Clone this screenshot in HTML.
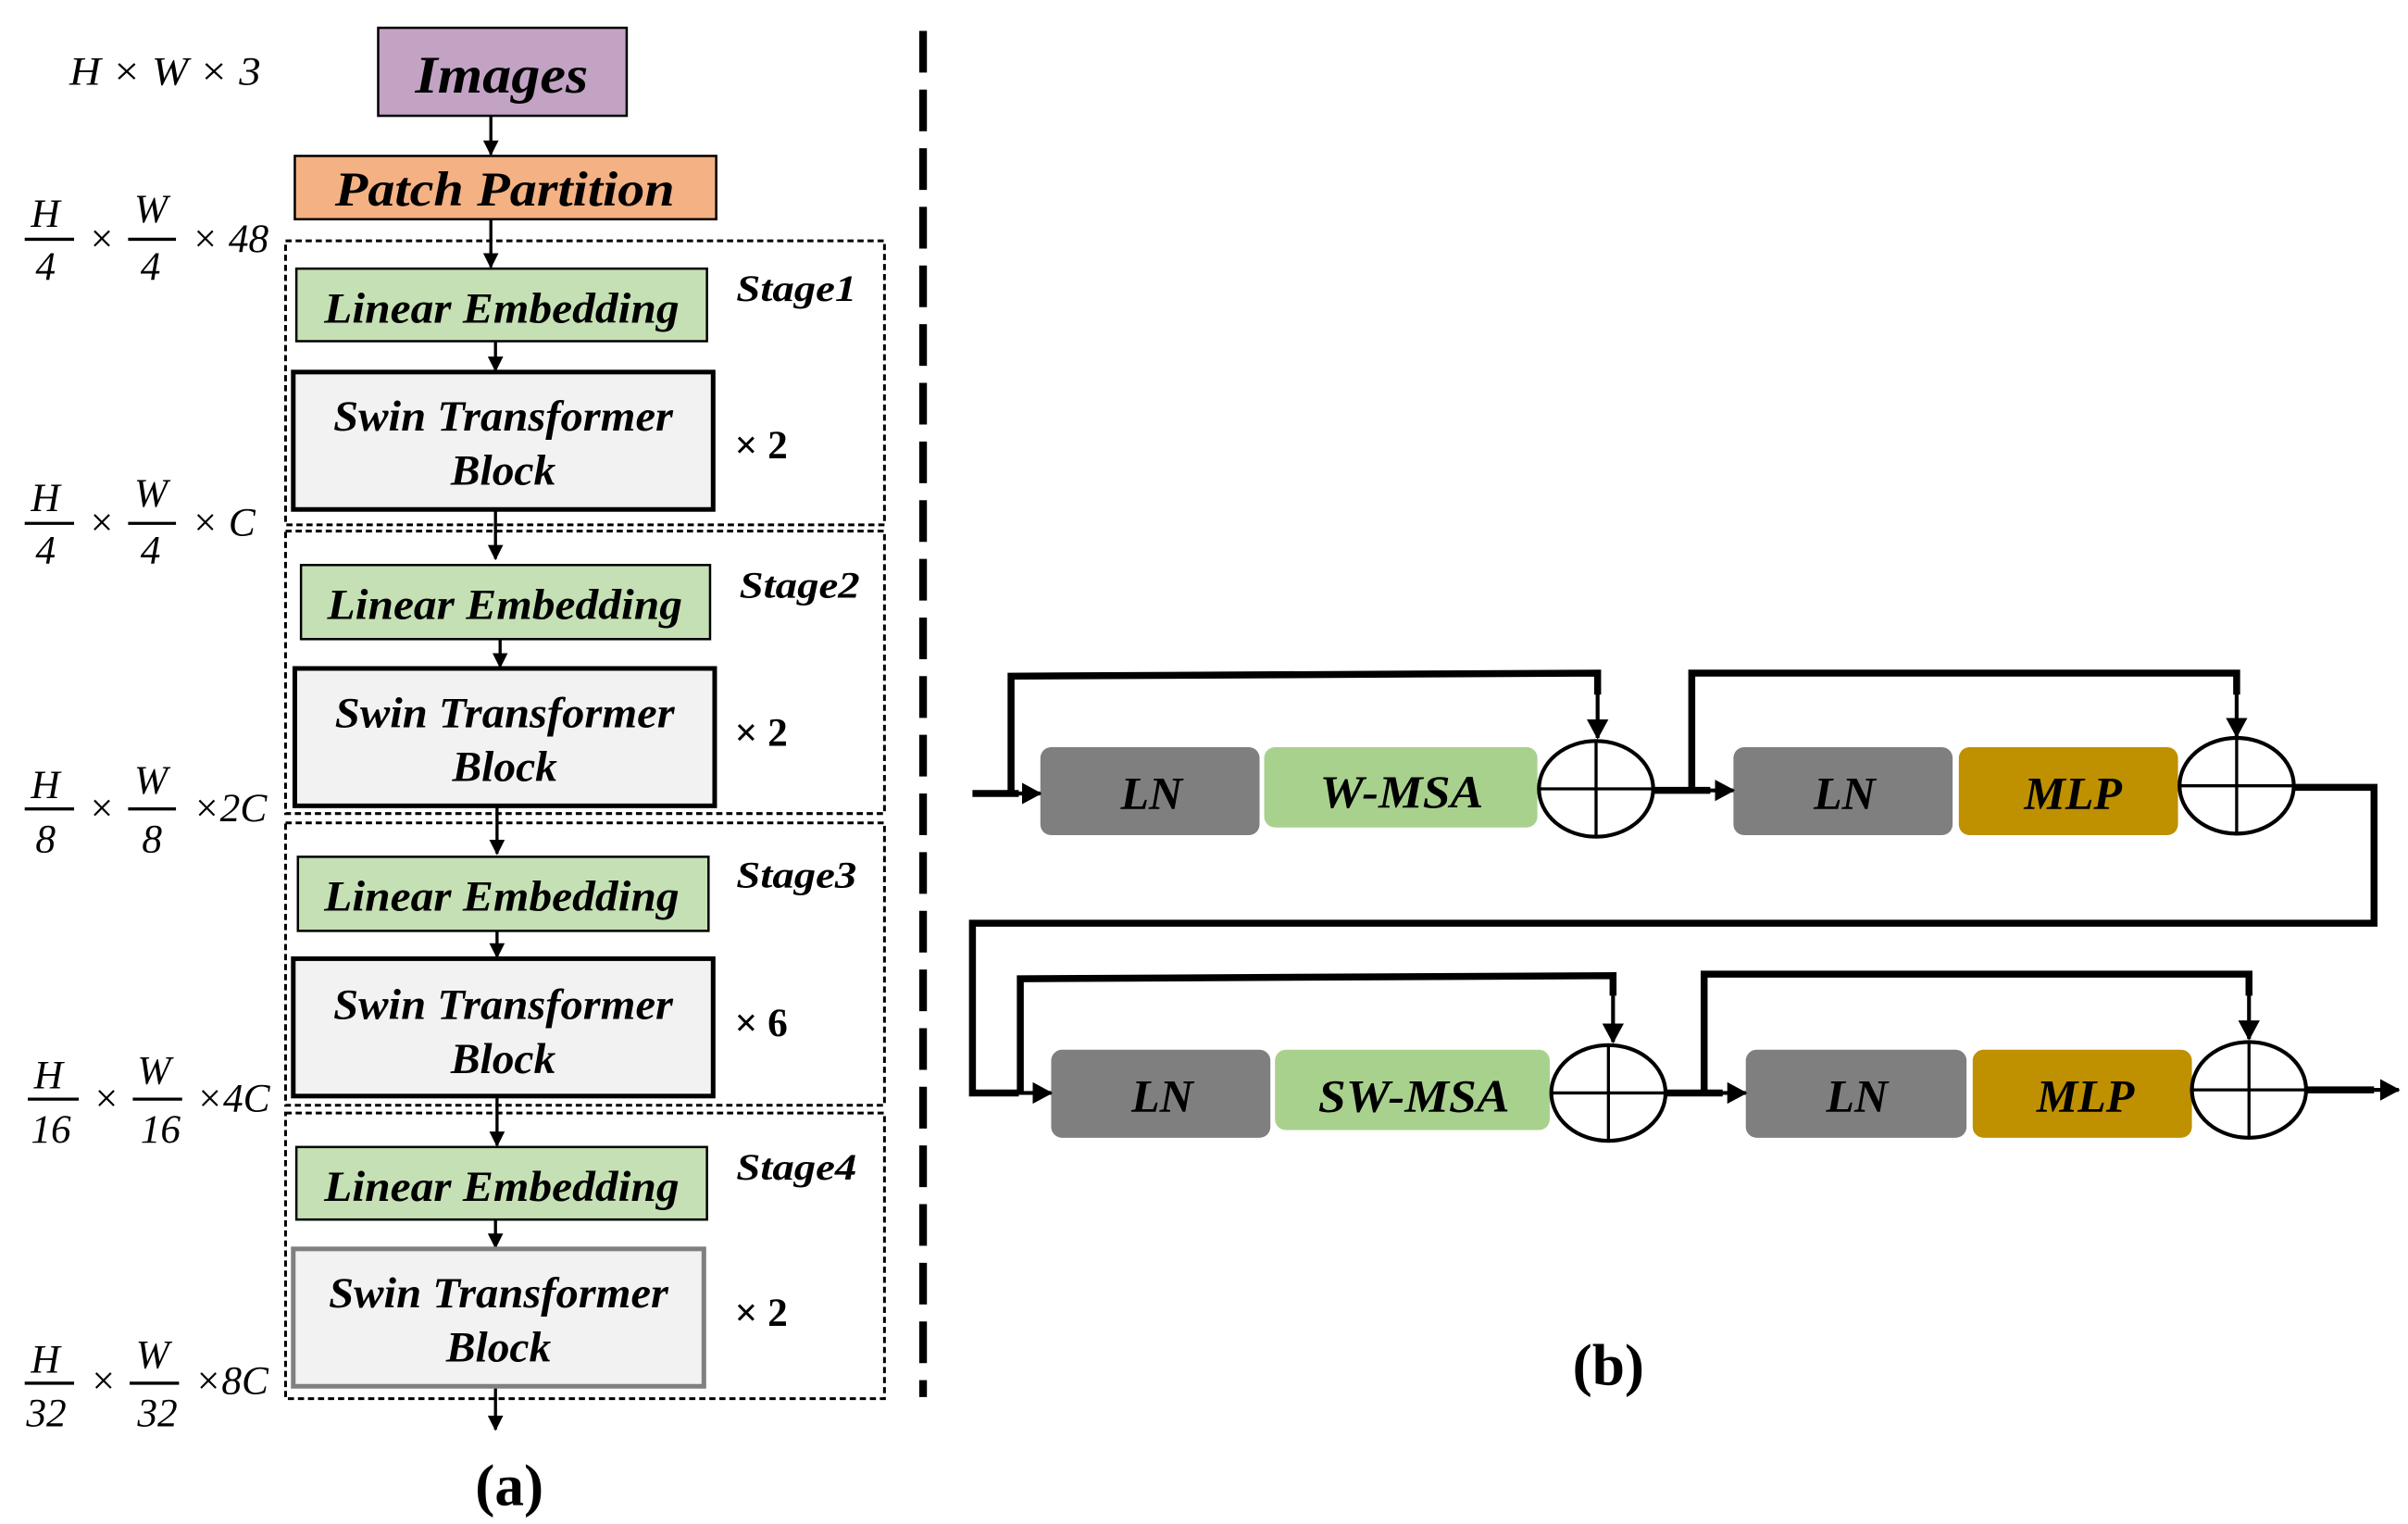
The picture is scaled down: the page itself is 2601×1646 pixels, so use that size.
<!DOCTYPE html>
<html><head><meta charset="utf-8"><style>
html,body{margin:0;padding:0;background:#fff;}
svg{display:block;}
text{font-family:"Liberation Serif",serif;}
.b{font-weight:bold;font-style:italic;}
.i{font-style:italic;}
</style></head><body>
<svg width="2601" height="1646" viewBox="0 0 1560 987.2" xmlns="http://www.w3.org/2000/svg">
<defs>
<marker id="ah" markerWidth="10" markerHeight="10" refX="9" refY="5" orient="auto" markerUnits="userSpaceOnUse"><path d="M0,0 L10,5 L0,10 z" fill="#000"/></marker>
<marker id="ah2" markerWidth="14" markerHeight="14" refX="12" refY="7" orient="auto" markerUnits="userSpaceOnUse"><path d="M0,0 L13,7 L0,14 z" fill="#000"/></marker>
</defs>
<rect width="1560" height="988" fill="#fff"/>

<rect x="245" y="18" width="161" height="57" fill="#C3A3C4" stroke="#000" stroke-width="1.5"/>
<text x="325" y="60" class="b" font-size="34" text-anchor="middle" textLength="112" lengthAdjust="spacingAndGlyphs">Images</text>
<rect x="191" y="101" width="273" height="41" fill="#F4B183" stroke="#000" stroke-width="1.5"/>
<text x="327" y="133" class="b" font-size="32" text-anchor="middle" textLength="220" lengthAdjust="spacingAndGlyphs">Patch Partition</text>

<g stroke="#000" stroke-width="2" fill="none" marker-end="url(#ah)">
<line x1="318" y1="75" x2="318" y2="100"/>
<line x1="318" y1="142" x2="318" y2="173"/>
<line x1="321" y1="221" x2="321" y2="240"/>
<line x1="321" y1="330" x2="321" y2="362"/>
<line x1="324" y1="414" x2="324" y2="432"/>
<line x1="322" y1="522" x2="322" y2="553"/>
<line x1="322" y1="603" x2="322" y2="620"/>
<line x1="322" y1="710" x2="322" y2="742"/>
<line x1="321" y1="790" x2="321" y2="808"/>
<line x1="321" y1="898" x2="321" y2="926"/>
</g>

<g fill="none" stroke="#000" stroke-width="1.8" stroke-dasharray="4,2.5">
<rect x="185" y="156" width="388" height="184"/>
<rect x="185" y="344" width="388" height="183"/>
<rect x="185" y="533" width="388" height="183"/>
<rect x="185" y="721" width="388" height="185"/>
</g>

<g stroke="#000" stroke-width="1.5" fill="#C5E0B4">
<rect x="192" y="174" width="266" height="47"/>
<rect x="195" y="366" width="265" height="48"/>
<rect x="193" y="555" width="266" height="48"/>
<rect x="192" y="743" width="266" height="47"/>
</g>
<g class="b" font-size="28" text-anchor="middle">
<text x="325" y="209" textLength="230" lengthAdjust="spacingAndGlyphs">Linear Embedding</text>
<text x="327" y="401" textLength="230" lengthAdjust="spacingAndGlyphs">Linear Embedding</text>
<text x="325" y="590" textLength="230" lengthAdjust="spacingAndGlyphs">Linear Embedding</text>
<text x="325" y="778" textLength="230" lengthAdjust="spacingAndGlyphs">Linear Embedding</text>
</g>

<g fill="#F2F2F2" stroke="#000" stroke-width="3">
<rect x="190" y="241" width="272" height="89"/>
<rect x="191" y="433" width="272" height="89"/>
<rect x="190" y="621" width="272" height="89"/>
</g>
<rect x="190" y="809" width="266" height="89" fill="#F2F2F2" stroke="#808080" stroke-width="3"/>
<g class="b" font-size="28" text-anchor="middle">
<text x="326" y="279" textLength="220" lengthAdjust="spacingAndGlyphs">Swin Transformer</text>
<text x="326" y="314" textLength="68" lengthAdjust="spacingAndGlyphs">Block</text>
<text x="327" y="471" textLength="220" lengthAdjust="spacingAndGlyphs">Swin Transformer</text>
<text x="327" y="506" textLength="68" lengthAdjust="spacingAndGlyphs">Block</text>
<text x="326" y="660" textLength="220" lengthAdjust="spacingAndGlyphs">Swin Transformer</text>
<text x="326" y="695" textLength="68" lengthAdjust="spacingAndGlyphs">Block</text>
<text x="323" y="847" textLength="220" lengthAdjust="spacingAndGlyphs">Swin Transformer</text>
<text x="323" y="882" textLength="68" lengthAdjust="spacingAndGlyphs">Block</text>
</g>

<g class="b" font-size="24">
<text x="477" y="195" textLength="78" lengthAdjust="spacingAndGlyphs">Stage1</text>
<text x="479" y="387" textLength="78" lengthAdjust="spacingAndGlyphs">Stage2</text>
<text x="477" y="575" textLength="78" lengthAdjust="spacingAndGlyphs">Stage3</text>
<text x="477" y="764" textLength="78" lengthAdjust="spacingAndGlyphs">Stage4</text>
</g>
<g font-size="26" font-weight="bold">
<text x="476" y="297">× 2</text>
<text x="476" y="483">× 2</text>
<text x="476" y="671">× 6</text>
<text x="476" y="859">× 2</text>
</g>

<text x="45" y="55" class="i" font-size="26" textLength="124" lengthAdjust="spacingAndGlyphs">H × W × 3</text>
<g font-size="26" class="i">
<text x="20" y="147">H</text><line x1="16" y1="155" x2="48" y2="155" stroke="#000" stroke-width="2"/><text x="23" y="181">4</text>
<text x="57" y="163">×</text>
<text x="87" y="144">W</text><line x1="83" y1="155" x2="114" y2="155" stroke="#000" stroke-width="2"/><text x="91" y="181">4</text>
<text x="124" y="163">× 48</text>

<text x="20" y="331">H</text><line x1="16" y1="339" x2="48" y2="339" stroke="#000" stroke-width="2"/><text x="23" y="365">4</text>
<text x="57" y="347">×</text>
<text x="87" y="328">W</text><line x1="83" y1="339" x2="114" y2="339" stroke="#000" stroke-width="2"/><text x="91" y="365">4</text>
<text x="124" y="347">× C</text>

<text x="20" y="517">H</text><line x1="16" y1="524" x2="48" y2="524" stroke="#000" stroke-width="2"/><text x="23" y="552">8</text>
<text x="57" y="532">×</text>
<text x="87" y="514">W</text><line x1="83" y1="524" x2="114" y2="524" stroke="#000" stroke-width="2"/><text x="92" y="552">8</text>
<text x="125" y="532">×2C</text>

<text x="22" y="705">H</text><line x1="18" y1="712" x2="51" y2="712" stroke="#000" stroke-width="2"/><text x="20" y="740">16</text>
<text x="60" y="720">×</text>
<text x="89" y="702">W</text><line x1="86" y1="712" x2="118" y2="712" stroke="#000" stroke-width="2"/><text x="91" y="740">16</text>
<text x="127" y="720">×4C</text>

<text x="20" y="889">H</text><line x1="16" y1="896" x2="48" y2="896" stroke="#000" stroke-width="2"/><text x="17" y="924">32</text>
<text x="58" y="903">×</text>
<text x="88" y="886">W</text><line x1="84" y1="896" x2="116" y2="896" stroke="#000" stroke-width="2"/><text x="89" y="924">32</text>
<text x="126" y="903">×8C</text>
</g>
<text x="330" y="975" font-size="38" font-weight="bold" text-anchor="middle">(a)</text>

<line x1="598" y1="20" x2="598" y2="905" stroke="#000" stroke-width="5" stroke-dasharray="27,11"/>

<g fill="#7F7F7F">
<rect x="674" y="484" width="142" height="57" rx="7"/>
<rect x="1123" y="484" width="142" height="57" rx="7"/>
<rect x="681" y="680" width="142" height="57" rx="7"/>
<rect x="1131" y="680" width="143" height="57" rx="7"/>
</g>
<rect x="819" y="484" width="177" height="52" rx="7" fill="#A9D18E"/>
<rect x="826" y="680" width="178" height="52" rx="7" fill="#A9D18E"/>
<rect x="1269" y="484" width="142" height="57" rx="7" fill="#BF9000"/>
<rect x="1278" y="680" width="142" height="57" rx="7" fill="#BF9000"/>
<g class="b" font-size="30" text-anchor="middle">
<text x="746" y="524">LN</text>
<text x="908" y="523" textLength="106" lengthAdjust="spacingAndGlyphs">W-MSA</text>
<text x="1195" y="524">LN</text>
<text x="1343" y="524">MLP</text>
<text x="753" y="720">LN</text>
<text x="916" y="720" textLength="124" lengthAdjust="spacingAndGlyphs">SW-MSA</text>
<text x="1203" y="720">LN</text>
<text x="1351" y="720">MLP</text>
</g>

<g fill="#fff" stroke="#000" stroke-width="2.5">
<ellipse cx="1034" cy="511" rx="37" ry="31"/>
<ellipse cx="1449" cy="509" rx="37" ry="31"/>
<ellipse cx="1042" cy="708" rx="37" ry="31"/>
<ellipse cx="1457" cy="706" rx="37" ry="31"/>
</g>
<g stroke="#000" stroke-width="2">
<line x1="997" y1="511" x2="1071" y2="511"/><line x1="1034" y1="480" x2="1034" y2="542"/>
<line x1="1412" y1="509" x2="1486" y2="509"/><line x1="1449" y1="478" x2="1449" y2="540"/>
<line x1="1005" y1="708" x2="1079" y2="708"/><line x1="1042" y1="677" x2="1042" y2="739"/>
<line x1="1420" y1="706" x2="1494" y2="706"/><line x1="1457" y1="675" x2="1457" y2="737"/>
</g>

<g fill="none" stroke="#000" stroke-width="4.5">
<polyline points="655,513 655,438 1035,436 1035,450"/>
<polyline points="1096,511 1096,436 1449,436 1449,450"/>
<polyline points="1486,510 1538,510 1538,598 630,598 630,708 660,708"/>
<polyline points="661,708 661,634 1045,632 1045,645"/>
<polyline points="1104,707 1104,631 1457,631 1457,645"/>
<line x1="630" y1="514" x2="660" y2="514"/>
<line x1="1071" y1="512" x2="1108" y2="512"/>
<line x1="1079" y1="708" x2="1116" y2="708"/>
<line x1="1494" y1="706" x2="1538" y2="706"/>
</g>
<g stroke="#000" stroke-width="2.5" fill="none" marker-end="url(#ah2)">
<line x1="1035" y1="448" x2="1035" y2="478"/>
<line x1="1449" y1="448" x2="1449" y2="477"/>
<line x1="1045" y1="643" x2="1045" y2="675"/>
<line x1="1457" y1="643" x2="1457" y2="673"/>
<line x1="655" y1="514" x2="674" y2="514"/>
<line x1="1100" y1="512" x2="1123" y2="512"/>
<line x1="655" y1="708" x2="681" y2="708"/>
<line x1="1108" y1="708" x2="1131" y2="708"/>
<line x1="1530" y1="706" x2="1554" y2="706"/>
</g>
<text x="1042" y="897" font-size="38" font-weight="bold" text-anchor="middle">(b)</text>
</svg>
</body></html>
